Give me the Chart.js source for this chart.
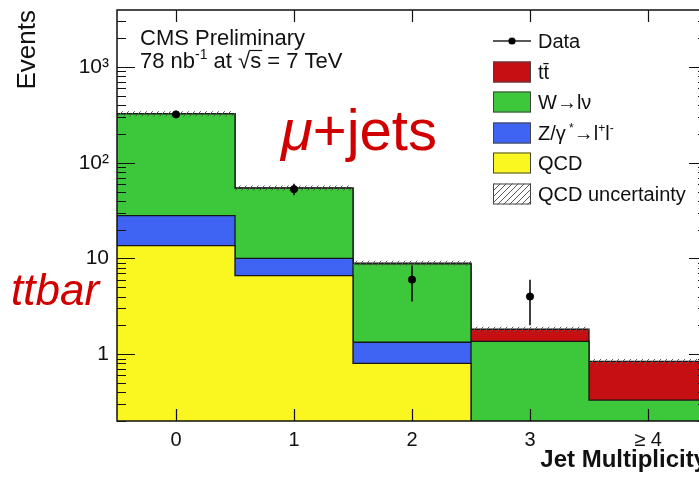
<!DOCTYPE html>
<html>
<head>
<meta charset="utf-8">
<script src="https://cdn.jsdelivr.net/npm/chart.js@4/dist/chart.umd.min.js"></script>
<style>
  html, body { margin: 0; padding: 0; background: #fff; overflow: hidden; }
  #wrap { width: 699px; height: 478px; overflow: hidden; }
  canvas { display: block; }
</style>
</head>
<body>
<div id="wrap"><canvas id="chart" width="716" height="478"></canvas></div>
<script>
// Jet multiplicity bins
const categories = ['0', '1', '2', '3', '≥ 4'];
const binCenters = [0, 1, 2, 3, 4];

// Expected events per process (stacked bottom to top)
const qcd   = [13.6, 6.6, 0.8, 0, 0];
const zjets = [14.4, 3.4, 0.53, 0, 0];
const wjets = [297, 44.2, 7.45, 1.36, 0.33];
const ttbar = [0.1, 0.3, 0.15, 0.46, 0.51];
const qcdUnc = [20, 3.5, 0.55, 0.11, 0.05];

// Observed events and their errors
const dataCounts = [320, 53, 6, 4, null];
const dataErr    = [18, 7.3, 2.45, 2.0, null];

// Axis tick labels
const yTickValues = [1, 10, 100, 1000];
const yTickLabels = ['1', '10', '10²', '10³'];

const FONT = '"Liberation Sans", Arial, Helvetica, sans-serif';
const COL = {
  yellow: '#f9f71f',
  blue:   '#3f64f3',
  green:  '#3dc83b',
  red:    '#c50f13',
  line:   '#161616',
  label:  '#d10000'
};
const FLOOR = 1e-3; // empty stack levels sit below the visible range

function addArrays(a, b) { return a.map((v, i) => v + b[i]); }
const cumQcd = qcd.slice();
const cumZ   = addArrays(cumQcd, zjets);
const cumW   = addArrays(cumZ, wjets);
const cumTt  = addArrays(cumW, ttbar);
const uncLo  = cumTt.map((v, i) => v - qcdUnc[i]);
const uncHi  = cumTt.map((v, i) => v + qcdUnc[i]);

// histogram outline: one point per lower bin edge, plus the last upper edge
function steps(vals) {
  const pts = vals.map((v, i) => ({ x: binCenters[i] - 0.5, y: Math.max(v, FLOOR) }));
  pts.push({ x: binCenters[vals.length - 1] + 0.5, y: Math.max(vals[vals.length - 1], FLOOR) });
  return pts;
}

function makeHatch() {
  const s = 6;
  const c = document.createElement('canvas');
  c.width = s; c.height = s;
  const g = c.getContext('2d');
  g.strokeStyle = '#5a5a5a';
  g.lineWidth = 1;
  g.beginPath();
  g.moveTo(0, s); g.lineTo(s, 0);
  g.moveTo(-1, 1); g.lineTo(1, -1);
  g.moveTo(s - 1, s + 1); g.lineTo(s + 1, s - 1);
  g.stroke();
  return g.createPattern(c, 'repeat');
}
const hatch = makeHatch();

function histDataset(label, vals, color, fill) {
  return {
    label, data: steps(vals), fill,
    stepped: 'before', backgroundColor: color,
    borderColor: COL.line, borderWidth: 1.3,
    pointRadius: 0, pointHoverRadius: 0
  };
}

const datasets = [
  histDataset('QCD', cumQcd, COL.yellow, 'start'),
  histDataset('Z/γ*→l⁺l⁻', cumZ, COL.blue, '-1'),
  histDataset('W→lν', cumW, COL.green, '-1'),
  histDataset('tt̄', cumTt, COL.red, '-1'),
  { label: 'QCD uncertainty low', data: steps(uncLo), fill: false, stepped: 'before',
    borderWidth: 0, pointRadius: 0, order: -1 },
  { label: 'QCD uncertainty', data: steps(uncHi), fill: '-1', stepped: 'before',
    backgroundColor: hatch, borderWidth: 0, pointRadius: 0, order: -1 },
  { type: 'scatter', label: 'Data',
    data: binCenters.map((x, i) => dataCounts[i] == null ? null : { x, y: dataCounts[i] }).filter(p => p),
    pointRadius: 3.6, pointBackgroundColor: '#000', pointBorderColor: '#000',
    showLine: false, order: -2 }
];

// axis frame with inward ticks on all four sides
const framePlugin = {
  id: 'frame',
  afterDraw(chart) {
    const { ctx, chartArea: { left, right, top, bottom }, scales: { x, y } } = chart;
    ctx.save();
    ctx.strokeStyle = '#111';
    ctx.lineWidth = 1.5;
    ctx.strokeRect(left, top, right - left, bottom - top);
    ctx.lineWidth = 1.2;
    ctx.beginPath();
    for (let e = -1; e <= 3; e++) {
      for (let m = 1; m <= 9; m++) {
        const v = m * Math.pow(10, e);
        if (v < y.min || v > y.max) continue;
        const py = Math.round(y.getPixelForValue(v)) + 0.5;
        const len = m === 1 ? 18 : 9;
        ctx.moveTo(left, py); ctx.lineTo(left + len, py);
        ctx.moveTo(right, py); ctx.lineTo(right - len, py);
      }
    }
    binCenters.forEach(v => {
      const px = Math.round(x.getPixelForValue(v)) + 0.5;
      ctx.moveTo(px, bottom); ctx.lineTo(px, bottom - 12);
      ctx.moveTo(px, top); ctx.lineTo(px, top + 12);
    });
    ctx.stroke();
    ctx.restore();
  }
};

// vertical error bars on the observed points
const errorBarPlugin = {
  id: 'errorBars',
  afterDatasetsDraw(chart) {
    const { ctx, scales: { x, y } } = chart;
    ctx.save();
    ctx.strokeStyle = '#000';
    ctx.lineWidth = 1.5;
    binCenters.forEach((c, i) => {
      if (dataCounts[i] == null) return;
      const px = x.getPixelForValue(c);
      ctx.beginPath();
      ctx.moveTo(px, y.getPixelForValue(dataCounts[i] + dataErr[i]));
      ctx.lineTo(px, y.getPixelForValue(Math.max(dataCounts[i] - dataErr[i], y.min)));
      ctx.stroke();
    });
    ctx.restore();
  }
};

function richText(ctx, x, y, parts, size, style) {
  let cx = x;
  for (const [t, sup] of parts) {
    const fs = sup ? Math.round(size * 0.62) : size;
    ctx.font = (style || '') + ' ' + fs + 'px ' + FONT;
    ctx.fillText(t, cx, sup ? y - size * 0.4 : y);
    cx += ctx.measureText(t).width;
  }
  return cx;
}

// legend, experiment label and channel captions
const textPlugin = {
  id: 'texts',
  afterDraw(chart) {
    const ctx = chart.ctx;
    ctx.save();
    ctx.textBaseline = 'alphabetic';
    ctx.textAlign = 'left';

    // legend
    const bx = 493, bw = 38, bh = 21, tx = 538, fs = 20;
    const rows = [41, 72, 102, 133, 163, 194];
    ctx.fillStyle = '#111';
    // Data
    ctx.strokeStyle = '#222'; ctx.lineWidth = 1.5;
    ctx.beginPath(); ctx.moveTo(bx, rows[0]); ctx.lineTo(bx + bw, rows[0]); ctx.stroke();
    ctx.beginPath(); ctx.arc(bx + bw / 2, rows[0], 3.6, 0, Math.PI * 2); ctx.fillStyle = '#000'; ctx.fill();
    const boxes = [
      [COL.red, rows[1]], [COL.green, rows[2]], [COL.blue, rows[3]], [COL.yellow, rows[4]], [hatch, rows[5]]
    ];
    boxes.forEach(([c, yc]) => {
      ctx.fillStyle = c;
      ctx.fillRect(bx, yc - bh / 2, bw, bh);
      ctx.strokeStyle = '#444'; ctx.lineWidth = 1;
      ctx.strokeRect(bx + 0.5, yc - bh / 2 + 0.5, bw - 1, bh - 1);
    });
    ctx.fillStyle = '#111';
    const off = 7;
    richText(ctx, tx, rows[0] + off, [['Data', 0]], fs);
    richText(ctx, tx, rows[1] + off, [['tt̄', 0]], fs);
    richText(ctx, tx, rows[2] + off, [['W→lν', 0]], fs);
    richText(ctx, tx, rows[3] + off, [['Z/γ', 0], [' *', 1], ['→l', 0], ['+', 1], ['l', 0], ['-', 1]], fs);
    richText(ctx, tx, rows[4] + off, [['QCD', 0]], fs);
    richText(ctx, tx, rows[5] + off, [['QCD uncertainty', 0]], fs);

    // experiment label
    const cs = 22;
    richText(ctx, 140, 45, [['CMS Preliminary', 0]], cs);
    let cx = richText(ctx, 140, 68, [['78 nb', 0], ['-1', 1], [' at ', 0]], cs);
    ctx.font = cs + 'px ' + FONT;
    const sqrtW = ctx.measureText('√').width;
    ctx.fillText('√', cx, 68);
    const sStart = cx + sqrtW;
    ctx.fillText('s', sStart, 68);
    const sEnd = sStart + ctx.measureText('s').width;
    ctx.strokeStyle = '#111'; ctx.lineWidth = 1.2;
    ctx.beginPath(); ctx.moveTo(sStart - 1, 68 - 17.5); ctx.lineTo(sEnd + 1, 68 - 17.5); ctx.stroke();
    ctx.fillText(' = 7 TeV', sEnd, 68);

    // channel captions
    ctx.fillStyle = COL.label;
    ctx.font = 'italic 58px ' + FONT;
    ctx.fillText('μ', 281, 150);
    const mw = ctx.measureText('μ').width;
    ctx.font = '58px ' + FONT;
    ctx.fillText('+jets', 281 + mw, 150);
    ctx.font = 'italic 44px ' + FONT;
    ctx.fillText('ttbar', 11, 305);
    ctx.restore();
  }
};

function noScalePadding(s) {
  s.paddingTop = 0; s.paddingBottom = 0; s.paddingLeft = 0; s.paddingRight = 0;
}

new Chart(document.getElementById('chart'), {
  type: 'line',
  data: { datasets },
  options: {
    responsive: false,
    animation: false,
    layout: { padding: { top: 10, right: 9, left: 0, bottom: 0 } },
    plugins: { legend: { display: false }, tooltip: { enabled: false } },
    scales: {
      x: {
        type: 'linear',
        min: -0.5, max: 4.5,
        grid: { display: false, drawTicks: false },
        border: { display: false },
        afterBuildTicks: s => { s.ticks = binCenters.map(v => ({ value: v })); },
        afterFit: s => { s.height = 57; noScalePadding(s); },
        ticks: {
          callback: (v, i) => categories[i],
          color: '#111', padding: 7, maxRotation: 0,
          font: { family: FONT, size: 20 }
        },
        title: {
          display: true, text: 'Jet Multiplicity', align: 'end', color: '#111',
          font: { family: FONT, size: 24, weight: 'bold' }, padding: { top: 0, bottom: 3 }
        }
      },
      y: {
        type: 'logarithmic',
        min: 0.2, max: 3950,
        grid: { display: false, drawTicks: false },
        border: { display: false },
        afterBuildTicks: s => { s.ticks = yTickValues.map(v => ({ value: v })); },
        afterFit: s => { s.width = 117; noScalePadding(s); },
        ticks: {
          callback: (v, i) => yTickLabels[i],
          color: '#111', padding: 8,
          font: { family: FONT, size: 21 }
        },
        title: {
          display: true, text: 'Events', align: 'end', color: '#111',
          font: { family: FONT, size: 26 }, padding: { top: 12, bottom: 0 }
        }
      }
    }
  },
  plugins: [framePlugin, errorBarPlugin, textPlugin]
});
</script>
</body>
</html>
